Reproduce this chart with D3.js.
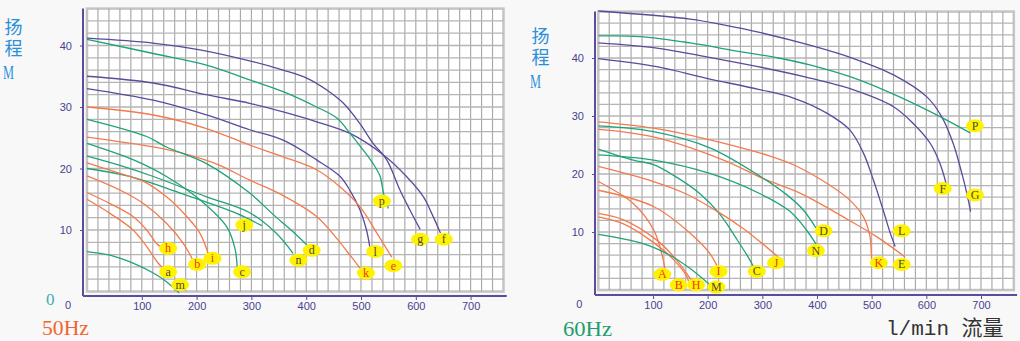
<!DOCTYPE html>
<html><head><meta charset="utf-8">
<script src="https://cdn.jsdelivr.net/npm/d3@7"></script>
<style>
html,body{margin:0;padding:0;background:#f8f8f8;}
svg{display:block;}
</style></head><body>
<svg id="c" width="1020" height="341"></svg>
<script>
// ---------- tick labels ----------
const xTicks = [100, 200, 300, 400, 500, 600, 700];
const yTicks = [10, 20, 30, 40];

// ---------- 50Hz curves (flow l/min, head m) ----------
const c50_g = [[0,41.2],[120,40.4],[206,39.3],[297,37.5],[358,36],[401,34.7],[437,32.8],[468,30.6],[498,27.3],[522,24.1],[547,21.4],[571,16.5],[589,13.3],[608,10.1]];
const c50_f = [[0,35.0],[121,33.9],[218,32.0],[297,30.6],[358,29.2],[419,27.6],[480,25.7],[541,22.2],[583,18.7],[614,15.4],[629,12.7],[645,9.5]];
const c50_l = [[0,33.0],[121,31.1],[218,28.7],[297,26.3],[358,24.6],[419,21.4],[462,18.7],[480,16.4],[498,13.3],[510,10.0],[516,7.3]];
const c50_p = [[0,41.0],[121,38.7],[218,36.8],[297,34.4],[358,32.5],[419,30.0],[456,28.2],[480,25.7],[504,23.0],[522,20.8],[535,18.7],[541,16.0],[550,13.5]];
const c50_e = [[0,30.0],[121,28.7],[218,26.5],[297,23.8],[358,21.9],[419,19.8],[462,17.0],[498,13.8],[529,9.5],[556,5.6]];
const c50_k = [[0,25.1],[121,23.5],[182,22.3],[240,20.6],[297,18.1],[358,15.6],[419,12.2],[456,8.6],[480,5.9],[498,3.8]];
const c50_d = [[0,28.0],[109,25.2],[145,23.5],[218,20.8],[297,16.0],[340,12.5],[375,9.8],[401,7.6]];
const c50_c = [[0,24.1],[85,21.4],[145,18.7],[206,14.9],[255,10.5],[270,7.0],[274,4.0]];
const c50_n = [[0,22.0],[60,20.5],[121,18.7],[218,15.4],[297,12.8],[345,9.5],[376,6.2]];
const c50_j = [[0,20.0],[78,18.7],[170,16.0],[273,12.7],[319,10.7]];
const c50_i = [[0,20.9],[60,19.2],[103,17.9],[145,15.4],[182,12.2],[206,9.5],[221,6.2]];
const c50_b = [[0,18.8],[60,16.5],[103,14.3],[145,11.1],[176,7.8],[192,5.3]];
const c50_h = [[0,16.1],[42,14.3],[84,12.2],[109,10.0],[127,7.8],[136,7.2]];
const c50_a = [[0,15.0],[42,12.7],[84,10.0],[109,7.3],[130,4.6],[139,3.8]];
const c50_m = [[0,6.5],[42,5.9],[84,4.6],[121,3.0],[145,1.6],[168,-0.2]];

// ---------- 60Hz curves ----------
const c60_G = [[0,48.1],[168,46.7],[229,45.7],[295,44.4],[387,42.2],[467,39.9],[540,37.1],[601,33.3],[628,29.9],[649,25.3],[665,20.1],[674,16.7],[681,13.5]];
const c60_P = [[0,43.8],[76,43.7],[168,42.6],[259,41.1],[330,40.0],[387,38.8],[478,36.2],[551,33.3],[625,29.9],[680,27.1]];
const c60_F = [[0,42.6],[107,41.7],[198,40.2],[292,38.5],[380,36.7],[467,34.5],[540,31.6],[576,28.7],[607,25.3],[625,21.8],[636,18.4]];
const c60_L = [[0,39.9],[107,38.5],[198,36.5],[293,34.6],[357,33.1],[418,30.5],[460,27.6],[485,23.6],[503,19.0],[521,13.8],[534,9.8],[543,7.5]];
const c60_K = [[0,29.0],[101,27.9],[204,25.9],[314,23.1],[357,21.6],[418,18.4],[460,15.5],[485,12.6],[497,9.2],[499,6.9],[500,5.2]];
const c60_E = [[0,27.7],[101,26.4],[229,22.4],[302,19.2],[369,16.7],[448,12.6],[509,9.2],[561,5.7]];
const c60_D = [[0,28.3],[101,27.3],[204,24.5],[296,19.6],[345,16.4],[375,13.8],[398,10.7]];
const c60_N = [[0,23.3],[101,22.4],[204,20.1],[296,16.6],[350,13.6],[381,10.3],[399,7.8]];
const c60_C = [[0,24.3],[64,22.4],[101,21.6],[137,19.8],[186,16.6],[223,13.0],[253,8.8],[272,6.0],[284,4.0]];
const c60_J = [[0,21.3],[101,18.7],[160,16.6],[217,13.6],[265,10.6],[300,8.0],[329,5.7]];
const c60_A = [[0,18.7],[64,14.9],[101,10.4],[116,6.3],[122,3.7]];
const c60_I = [[0,17.2],[101,14.4],[168,9.8],[204,6.3],[221,3.4]];
const c60_H = [[0,13.2],[46,12.1],[107,8.6],[143,5.2],[170,1.7]];
const c60_B = [[0,12.6],[46,11.4],[95,8.6],[138,5.2],[162,2.3],[165,1.5]];
const c60_M = [[0,9.6],[82,8.0],[131,6.0],[168,3.7],[204,0.9]];

// series: [name, family, points]
const curves50 = [
  ['g','purple',c50_g],['f','purple',c50_f],['l','purple',c50_l],['p','green',c50_p],
  ['e','orange',c50_e],['k','orange',c50_k],['d','green',c50_d],['c','green',c50_c],
  ['n','green',c50_n],['j','green',c50_j],['i','orange',c50_i],['b','orange',c50_b],
  ['h','orange',c50_h],['a','orange',c50_a],['m','green',c50_m]
];
const curves60 = [
  ['G','purple',c60_G],['P','green',c60_P],['F','purple',c60_F],['L','purple',c60_L],
  ['K','orange',c60_K],['E','orange',c60_E],['D','green',c60_D],['N','green',c60_N],
  ['C','green',c60_C],['J','orange',c60_J],['A','orange',c60_A],['I','orange',c60_I],
  ['H','orange',c60_H],['B','orange',c60_B],['M','green',c60_M]
];

// curve tags: [letter, flow, head]
const labels50 = [['a',148,3.2],['b',201,4.4],['c',283,3.2],['d',410,6.7],['e',559,4.2],['f',651,8.5],['g',608,8.5],
  ['h',148,7.0],['i',229,5.4],['j',287,10.8],['k',509,3.0],['l',526,6.5],['m',170,1.1],['n',386,5.1],['p',538,14.7]];
const labels60 = [['A',117,2.7],['B',147,0.9],['H',179,0.9],['M',216,0.5],['I',220,3.2],['C',290,3.2],['J',325,4.7],
  ['D',412,10.2],['N',398,6.8],['K',513,4.7],['E',555,4.4],['L',555,10.2],['F',630,17.5],['G',689,16.4],['P',689,28.3]];
const redTags = ['h','b','i','e','k','A','B','H','I','J','K'];

// ---------- drawing ----------
const svg = d3.select('#c');
const colors = {purple:'#5a4b9d', green:'#1fa37a', orange:'#f47a4e'};
const axisColor = '#5b4c9e';
const tickColor = '#4b3f8e';

const panels = [
  {x:d3.scaleLinear([0,700],[87,470.6]), y:d3.scaleLinear([0,40],[291.5,45.5]), yTop:46,
   axisX:83, axisY:296, curves:curves50, labels:labels50},
  {x:d3.scaleLinear([0,700],[598.3,981]), y:d3.scaleLinear([0,40],[290,58]), yTop:48,
   axisX:595, axisY:295, curves:curves60, labels:labels60}
];

panels.forEach(P => {
  const g = svg.append('g');
  const x0 = P.x(0), x1 = P.x(760), y0 = P.y(0), y1 = P.y(P.yTop);
  g.append('rect').attr('x',x0).attr('y',y1).attr('width',x1-x0).attr('height',y0-y1)
    .attr('fill','#fff').attr('stroke','#c4c4c4').attr('stroke-width',2.5);
  g.selectAll('line.v').data(d3.range(20,760,20)).join('line')
    .attr('x1',d=>P.x(d)).attr('x2',d=>P.x(d)).attr('y1',y1).attr('y2',y0)
    .attr('stroke','#ababab').attr('stroke-width',1.2);
  g.selectAll('line.h').data(d3.range(2,P.yTop,2)).join('line')
    .attr('y1',d=>P.y(d)).attr('y2',d=>P.y(d)).attr('x1',x0).attr('x2',x1)
    .attr('stroke','#b4b4b4').attr('stroke-width',1.3);

  // axes
  const ax = d3.axisBottom(P.x).tickValues(xTicks).tickSize(4).tickPadding(2);
  const axG = g.append('g').attr('transform',`translate(0,${P.axisY})`).call(ax);
  axG.select('.domain').remove();
  axG.selectAll('line').attr('stroke',axisColor);
  axG.selectAll('text').attr('fill',tickColor).style('font-family','Liberation Sans, Arial').style('font-size','11px');
  axG.append('text').attr('x',P.x(0)-19).attr('y',13).attr('fill',tickColor)
    .style('font-family','Liberation Sans, Arial').style('font-size','11px').attr('text-anchor','middle').text('0');

  const ay = d3.axisLeft(P.y).tickValues(yTicks).tickSize(3).tickPadding(8);
  const ayG = g.append('g').attr('transform',`translate(${P.axisX},0)`).call(ay);
  ayG.select('.domain').remove();
  ayG.selectAll('line').attr('stroke',axisColor);
  ayG.selectAll('text').attr('fill',tickColor).style('font-family','Liberation Sans, Arial').style('font-size','11px');

  g.append('line').attr('x1',P.axisX).attr('x2',P.x(766)).attr('y1',P.axisY).attr('y2',P.axisY)
    .attr('stroke',axisColor).attr('stroke-width',2);
  g.append('line').attr('x1',P.axisX).attr('x2',P.axisX).attr('y1',P.axisY).attr('y2',y1)
    .attr('stroke',axisColor).attr('stroke-width',2);

  // curves
  const line = d3.line().x(d=>P.x(d[0])).y(d=>P.y(d[1])).curve(d3.curveCatmullRom.alpha(0.5));
  g.selectAll('path.curve').data(P.curves).join('path').attr('class','curve')
    .attr('d',d=>line(d[2])).attr('fill','none').attr('stroke',d=>colors[d[1]]).attr('stroke-width',1.3);

  // tags
  const tg = g.selectAll('g.tag').data(P.labels).join('g')
    .attr('transform',d=>`translate(${P.x(d[1])},${P.y(d[2])})`);
  tg.append('ellipse').attr('rx',9).attr('ry',6.5).attr('fill','#fff200');
  tg.append('text').attr('text-anchor','middle').attr('y',4)
    .style('font-family','Liberation Serif, serif').style('font-size','12px')
    .attr('fill',d=>redTags.includes(d[0])?'#f0341a':'#4d4a3a').text(d=>d[0]);
});

// titles
const blue = '#2b8fd8';
function headLabel(x, yTop){
  const s = svg.append('g').attr('transform',`translate(${x},${yTop})`);
  s.append('text').attr('x',11.5).attr('y',0).attr('fill',blue)
    .style('writing-mode','vertical-rl').style('letter-spacing','3px')
    .style('font-family','Noto Sans CJK SC').style('font-size','18px').text('扬程');
  s.append('text').attr('x',1).attr('y',61).attr('fill',blue).style('font-family','Liberation Serif, serif')
    .style('font-size','19px').attr('textLength',11).attr('lengthAdjust','spacingAndGlyphs').text('M');
}
headLabel(2, 18);
headLabel(529, 27);
svg.append('text').attr('x',46).attr('y',305).attr('fill','#4aa9bb').style('font-family','Liberation Serif, serif').style('font-size','17px').text('0');
svg.append('text').attr('x',42).attr('y',335).attr('fill','#f2642e').style('font-family','Liberation Serif, serif')
  .style('font-size','20px').attr('textLength',47).attr('lengthAdjust','spacingAndGlyphs').text('50Hz');
svg.append('text').attr('x',563).attr('y',336).attr('fill','#1e9e6e').style('font-family','Liberation Serif, serif')
  .style('font-size','20px').attr('textLength',49).attr('lengthAdjust','spacingAndGlyphs').text('60Hz');
svg.append('text').attr('x',886).attr('y',335).attr('fill','#333').style('font-family','Liberation Mono, Noto Sans CJK SC')
  .style('font-size','21px').text('l/min 流量');
</script>
</body></html>
